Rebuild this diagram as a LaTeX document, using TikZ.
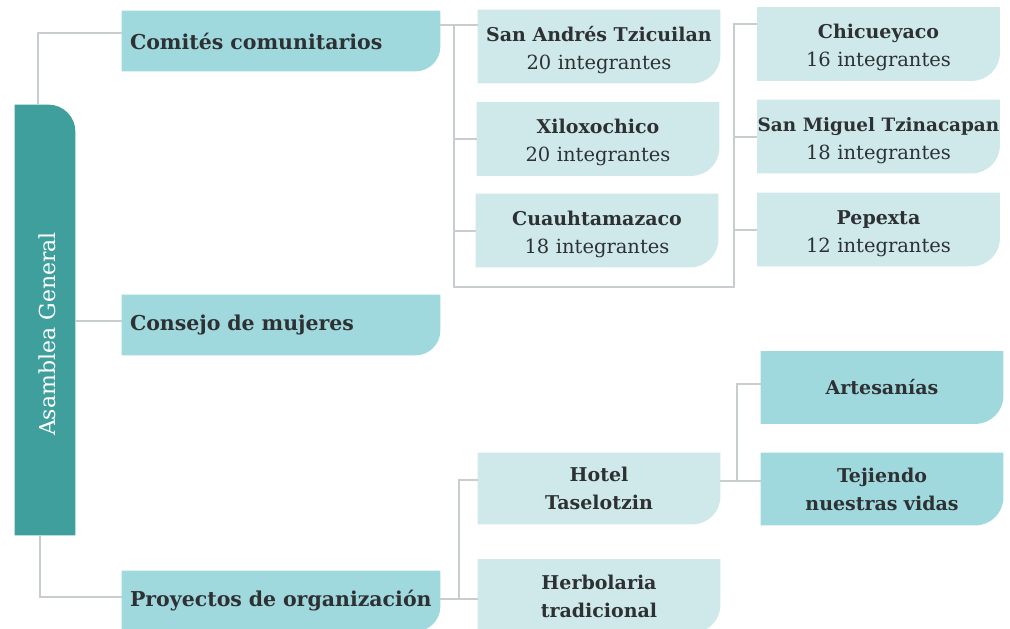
\documentclass[tikz,border=0pt]{standalone}
\usepackage{fontspec}
\setmainfont{DejaVu Serif}
\usetikzlibrary{calc,backgrounds}

\definecolor{asmcol}{HTML}{3F9F9D}
\definecolor{midcol}{HTML}{A0D9DD}
\definecolor{lightcol}{HTML}{CFE9EA}
\definecolor{linecol}{HTML}{C8CDD0}
\definecolor{txtcol}{HTML}{2E3133}

\newcommand{\namefont}{\bfseries\fontsize{19}{28}\selectfont}
\tikzset{every picture/.style={line width=0.75pt}}
\tikzset{
  conn/.style={draw=linecol,line width=2pt},
  mainbox/.style={inner xsep=8pt,inner ysep=0pt,text width=302pt,minimum height=60pt,align=left,font=\bfseries\fontsize{20.5}{28}\selectfont,text=txtcol},
  namebox/.style={inner sep=0pt,text width=242pt,minimum height=73pt,align=center,font=\namefont,text=txtcol},
  subbox/.style={namebox,text height=22pt,font=\fontsize{19.5}{28}\selectfont}
}
% fill with only the bottom right corner rounded
\newcommand{\tabfill}[3]{%
  \fill[#2] (#1.north west) -- (#1.north east) -- ($(#1.south east)+(0,-#3)$)
    arc[start angle=0,end angle=90,radius=#3] -- (#1.south west) -- cycle;}

\begin{document}
\begin{tikzpicture}[x=1pt,y=1pt,yscale=-1,xscale=1]
\useasboundingbox (0,0) rectangle (1010,629);

% Text Node
\node[inner sep=0pt,minimum width=60pt,minimum height=430pt] (asm) at (45,320) {};
% Text Node
\node[rotate=90,text=white,font=\fontsize{22}{24}\selectfont] (asmtxt) at (47,334) {Asamblea General};
% Text Node
\node[mainbox] (com) at (281,41) {Comités comunitarios};
% Text Node
\node[mainbox] (con) at (281,325) {Consejo de mujeres};
% Text Node
\node[mainbox] (pro) at (281,601) {Proyectos de organización};

% Text Node
\node[subbox] (sat) at (599,46.5) {{\namefont San Andrés Tzicuilan}\\20 integrantes};
% Text Node
\node[subbox] (xil) at (598,139) {{\namefont Xiloxochico}\\20 integrantes};
% Text Node
\node[subbox] (cua) at (597,230.5) {{\namefont Cuauhtamazaco}\\18 integrantes};
% Text Node
\node[subbox] (chi) at (878.5,44) {{\namefont Chicueyaco}\\16 integrantes};
% Text Node
\node[subbox] (smt) at (878.5,136.5) {{\namefont\fontsize{18.4}{28}\selectfont San Miguel Tzinacapan}\\18 integrantes};
% Text Node
\node[subbox] (pep) at (878.5,229.5) {{\namefont Pepexta}\\12 integrantes};

% Text Node
\node[namebox,minimum height=71pt] (hot) at (599,488.5) {Hotel\\Taselotzin};
% Text Node
\node[namebox] (her) at (599,596) {Herbolaria\\tradicional};
% Text Node
\node[namebox,minimum height=72pt] (art) at (882,387.5) {Artesanías};
% Text Node
\node[namebox,minimum height=72pt] (tej) at (882,489) {Tejiendo\\nuestras vidas};

\begin{scope}[on background layer]
\fill[asmcol] (asm.south west) -- (asm.north west) -- ($(asm.north east)+(-27,0)$)
  arc[start angle=-90,end angle=0,radius=27] -- (asm.south east) -- cycle;
\tabfill{com}{midcol}{25}
\tabfill{con}{midcol}{25}
\tabfill{pro}{midcol}{25}
\tabfill{sat}{lightcol}{28}
\tabfill{xil}{lightcol}{28}
\tabfill{cua}{lightcol}{28}
\tabfill{chi}{lightcol}{28}
\tabfill{smt}{lightcol}{28}
\tabfill{pep}{lightcol}{28}
\tabfill{hot}{lightcol}{28}
\tabfill{her}{lightcol}{28}
\tabfill{art}{midcol}{28}
\tabfill{tej}{midcol}{28}
\end{scope}

\coordinate (j1) at (38,33);
\coordinate (j2) at (98,321);
\coordinate (j3) at (40,597);
\coordinate (j4) at (454,25);
\coordinate (j5) at (454,287);
\coordinate (j6) at (734,287);
\coordinate (j7) at (734,24);
\coordinate (j8) at (459,599);
\coordinate (j9) at (459,480);
\coordinate (j10) at (737,481);
\coordinate (j11) at (737,384);

% Connection
\draw[conn] (asm.north -| j1) -- (j1) -- (com.west |- j1);
% Connection
\draw[conn] (asm.east |- j2) -- (con.west |- j2);
% Connection
\draw[conn] (asm.south -| j3) -- (j3) -- (pro.west |- j3);
% Connection
\draw[conn] (com.east |- j4) -- (sat.west |- j4);
% Connection
\draw[conn] (j4) -- (j5) -- (j6) -- (j7) -- (chi.west |- j7);
% Connection
\draw[conn] (j4 |- xil.west) -- (xil.west);
% Connection
\draw[conn] (j4 |- cua.west) -- (cua.west);
% Connection
\draw[conn] (j6 |- smt.west) -- (smt.west);
% Connection
\draw[conn] (j6 |- pep.west) -- (pep.west);
% Connection
\draw[conn] (pro.east |- j8) -- (her.west |- j8);
% Connection
\draw[conn] (j8) -- (j9) -- (hot.west |- j9);
% Connection
\draw[conn] (hot.east |- j10) -- (tej.west |- j10);
% Connection
\draw[conn] (j10) -- (j11) -- (art.west |- j11);

\end{tikzpicture}
\end{document}
